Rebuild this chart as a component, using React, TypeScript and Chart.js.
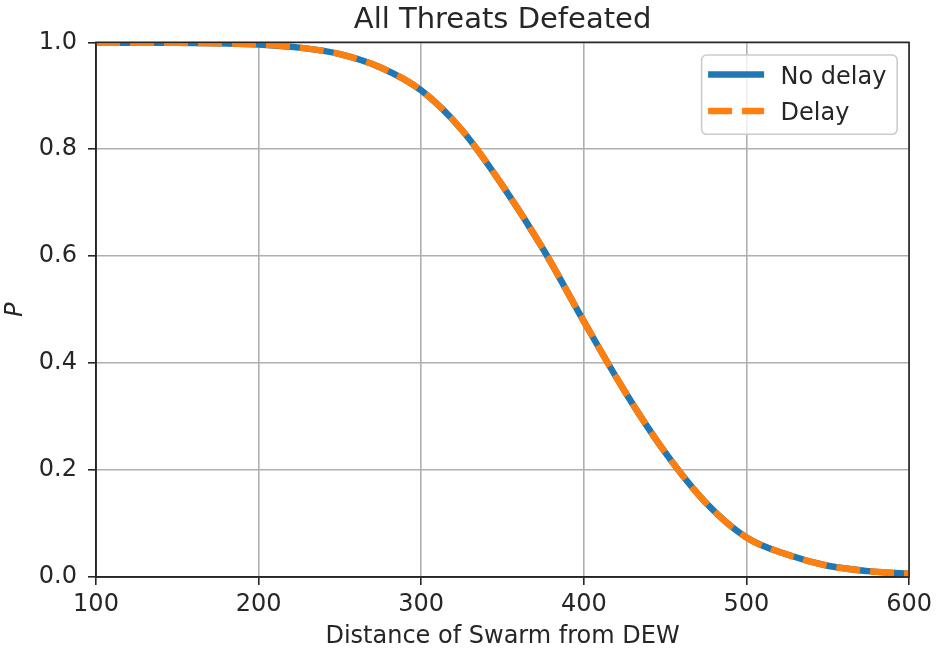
import { useEffect, useRef } from "react";
import { Chart, registerables } from "chart.js";
import type { ChartConfiguration, Plugin } from "chart.js";

Chart.register(...registerables);

// ---------------------------------------------------------------------------
// Data
// ---------------------------------------------------------------------------
const distances = [
  100, 125, 150, 175, 200, 225, 250, 275, 300, 325, 350, 375, 400, 425, 450,
  475, 500, 525, 550, 575, 600,
];
const pNoDelay = [
  0.999, 0.999, 0.999, 0.998, 0.996, 0.99, 0.978, 0.953, 0.91, 0.836, 0.732,
  0.613, 0.478, 0.348, 0.233, 0.139, 0.074, 0.042, 0.021, 0.011, 0.006,
];
const pDelay = [
  0.999, 0.999, 0.999, 0.998, 0.996, 0.99, 0.978, 0.953, 0.91, 0.836, 0.732,
  0.613, 0.478, 0.348, 0.233, 0.139, 0.074, 0.042, 0.021, 0.011, 0.006,
];
const seriesLabels = ["No delay", "Delay"];
const xTicks = [100, 200, 300, 400, 500, 600];

const FONT = "'DejaVu Sans', sans-serif";
const TEXT = "#262626";
const BLUE = "#1f77b4";
const ORANGE = "#ff7f0e";
const LINE_W = 6.5;
const DASH = [24, 10];

// spines on top/right + matplotlib style legend box
const framePlugin: Plugin<"line"> = {
  id: "frame",
  afterDatasetsDraw(chart) {
    const { ctx, chartArea: a } = chart;
    ctx.save();
    ctx.strokeStyle = TEXT;
    ctx.lineWidth = 1.6;
    ctx.strokeRect(a.left, a.top, a.right - a.left, a.bottom - a.top);

    // legend
    const bx = a.right - 207.5;
    const by = a.top + 12.7;
    const bw = 195.6;
    const bh = 79.3;
    ctx.beginPath();
    ctx.roundRect(bx, by, bw, bh, 5);
    ctx.fillStyle = "rgba(255,255,255,0.8)";
    ctx.fill();
    ctx.strokeStyle = "#cccccc";
    ctx.lineWidth = 1.6;
    ctx.stroke();

    const rows = [
      { y: by + 19.5, color: BLUE, dash: [] as number[] },
      { y: by + 56, color: ORANGE, dash: DASH },
    ];
    rows.forEach((r, i) => {
      ctx.beginPath();
      ctx.setLineDash(r.dash);
      ctx.strokeStyle = r.color;
      ctx.lineWidth = LINE_W;
      ctx.moveTo(bx + 6.5, r.y);
      ctx.lineTo(bx + 62.5, r.y);
      ctx.stroke();
      ctx.setLineDash([]);
      ctx.fillStyle = TEXT;
      ctx.font = `24px ${FONT}`;
      ctx.textBaseline = "middle";
      ctx.textAlign = "left";
      ctx.fillText(seriesLabels[i], bx + 79, r.y + 3);
    });
    ctx.restore();
  },
};

const createConfig = (): ChartConfiguration<"line"> => ({
  type: "line",
  data: {
    datasets: [
      {
        label: seriesLabels[0],
        data: distances.map((d, i) => ({ x: d, y: pNoDelay[i] })),
        borderColor: BLUE,
        borderWidth: LINE_W,
        pointRadius: 0,
        cubicInterpolationMode: "monotone",
        order: 1,
      },
      {
        label: seriesLabels[1],
        data: distances.map((d, i) => ({ x: d, y: pDelay[i] })),
        borderColor: ORANGE,
        borderWidth: LINE_W,
        borderDash: DASH,
        pointRadius: 0,
        cubicInterpolationMode: "monotone",
        order: 0,
      },
    ],
  },
  options: {
    responsive: false,
    animation: false,
    layout: { padding: { top: 0, right: 27, bottom: 0, left: 0 } },
    plugins: {
      legend: { display: false },
      tooltip: { enabled: false },
      title: {
        display: true,
        text: "All Threats Defeated",
        fullSize: false,
        color: TEXT,
        font: { family: FONT, size: 29, weight: "normal" },
        padding: { top: 3, bottom: 4.5 },
      },
    },
    scales: {
      x: {
        type: "linear",
        min: 100,
        max: 600,
        afterBuildTicks: (scale) => {
          scale.ticks = xTicks.map((v) => ({ value: v }));
        },
        afterFit: (scale) => {
          scale.height = 76;
        },
        ticks: {
          color: TEXT,
          font: { family: FONT, size: 24 },
          padding: 5,
          maxRotation: 0,
        },
        grid: {
          color: "#b0b0b0",
          lineWidth: 1.6,
          tickColor: TEXT,
          tickLength: 8,
          tickWidth: 1.6,
        },
        border: { color: TEXT, width: 1.6 },
        title: {
          display: true,
          text: "Distance of Swarm from DEW",
          color: TEXT,
          font: { family: FONT, size: 24 },
          padding: { top: 0, bottom: 2 },
        },
      },
      y: {
        min: 0,
        max: 1,
        afterFit: (scale) => {
          scale.width = 96;
        },
        ticks: {
          stepSize: 0.2,
          color: TEXT,
          font: { family: FONT, size: 24 },
          padding: 11,
          callback: (v) => Number(v).toFixed(1),
        },
        grid: {
          color: "#b0b0b0",
          lineWidth: 1.6,
          tickColor: TEXT,
          tickLength: 8,
          tickWidth: 1.6,
        },
        border: { color: TEXT, width: 1.6 },
        title: {
          display: true,
          text: "P",
          color: TEXT,
          font: { family: FONT, size: 24, style: "italic" },
          padding: { top: 1, bottom: 0 },
        },
      },
    },
  },
  plugins: [framePlugin],
});

export default function App() {
  const canvasRef = useRef<HTMLCanvasElement>(null);
  const chartRef = useRef<Chart<"line"> | null>(null);

  useEffect(() => {
    document.body.style.margin = "0";
    if (!canvasRef.current) return;
    chartRef.current = new Chart(canvasRef.current, createConfig());
    return () => {
      chartRef.current?.destroy();
      chartRef.current = null;
    };
  }, []);

  return (
    <div style={{ width: 937, height: 653, background: "#fff" }}>
      <canvas ref={canvasRef} width={937} height={653} />
    </div>
  );
}
